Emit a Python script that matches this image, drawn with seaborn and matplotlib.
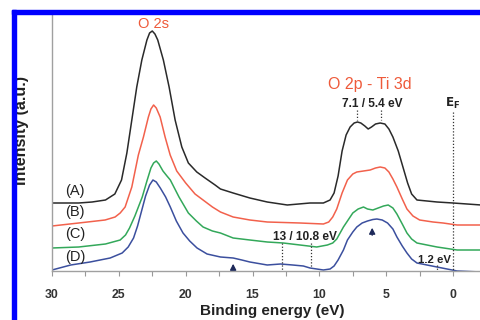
import matplotlib
matplotlib.use("Agg")
import matplotlib.pyplot as plt
from matplotlib.patches import Rectangle
import seaborn as sns
import pandas as pd

sns.set_style("white")
plt.rcParams['font.family'] = ['Liberation Sans', 'DejaVu Sans']

# Binding energy (eV) / intensity (a.u., offset)
be_A = [30, 28, 27, 26, 25.3, 24.8, 24.4, 24.03, 23.66, 23.28, 22.9, 22.7, 22.5, 22.3, 22.09,
        21.67, 21.24, 20.79, 20.29, 19.8, 19.17, 18.55, 17.8, 17.4, 16.45, 15.2, 13.9, 12.4, 10.7, 9.7,
        9.2, 8.9, 8.6, 8.3, 8.0, 7.7, 7.4, 7.15, 6.9, 6.6, 6.35, 6.1, 5.8, 5.45, 5.1,
        4.8, 4.5, 4.1, 3.75, 3.4, 3.1, 2.7, 1.2, 0, -2.1]
int_A = [68, 68, 69, 71, 77, 91, 118, 151, 184, 211, 231, 238, 240, 237, 231,
         211, 184, 151, 124, 108, 99, 93, 86, 82, 78, 73, 69, 66, 68, 68,
         71, 78, 95, 120, 136, 144, 148, 149, 148, 145, 142, 144, 147, 148, 147,
         142, 134, 120, 104, 88, 77, 71, 69, 68, 66]

be_B = [30, 28, 26.03, 25.28, 24.9, 24.53, 24.03, 23.54, 23.16, 22.79, 22.6, 22.4, 22.2, 21.91, 21.54,
        21.16, 20.67, 20.0, 19.3, 18.7, 18.0, 17.4, 16.45, 15.2, 13.9, 11.45, 9.7, 9.3, 9.0, 8.7,
        8.3, 7.9, 7.5, 7.2, 6.7, 6.2, 5.8, 5.45, 5.1, 4.8, 4.5, 4.2, 3.8, 3.45, 3.0,
        2.5, 1.5, 0.75, -0.3, -2.1]
int_B = [45, 48, 51, 54, 58, 64, 84, 116, 134, 154, 162, 166, 163, 154, 134,
         116, 100, 88, 77, 71, 64, 59, 54, 51, 49, 48, 47, 49, 54, 62,
         78, 91, 97, 99, 100, 101, 103, 104, 103, 99, 92, 84, 72, 62, 55,
         51, 49, 48, 46, 46]

be_C = [30, 28, 26.0, 24.9, 24.5, 24.2, 23.8, 23.25, 22.9, 22.6, 22.4, 22.2, 22.0, 21.7, 21.4,
        21.15, 20.5, 19.8, 19.2, 18.7, 18.0, 17.4, 16.45, 15.2, 13.9, 12.7, 11.45, 10.2, 9.4, 9.0,
        8.7, 8.2, 7.8, 7.5, 7.1, 6.7, 6.4, 6.0, 5.6, 5.2, 4.85, 4.5, 4.2, 3.8, 3.45,
        3.1, 2.7, 1.2, -0.3, -2.1]
int_C = [23, 24, 27, 31, 36, 43, 55, 74, 90, 103, 108, 110, 107, 100, 95,
         91, 74, 58, 50, 44, 40, 38, 33, 31, 29, 28, 26, 24, 26, 28,
         32, 44, 52, 58, 62, 64, 62, 61, 63, 65, 66, 63, 57, 47, 38,
         32, 28, 24, 21, 21]

be_D = [30, 28.6, 27.15, 25.65, 24.75, 24.3, 23.9, 23.6, 23.3, 23.0, 22.7, 22.45, 22.2, 21.9, 21.5,
        21.15, 20.7, 20.2, 19.7, 19.15, 18.4, 17.4, 16.45, 15.8, 15.2, 13.9, 12.9, 12.0, 11.2, 10.7,
        9.7, 9.2, 8.9, 8.6, 8.2, 7.9, 7.5, 7.2, 6.8, 6.4, 6.0, 5.7, 5.3, 4.9, 4.5,
        4.2, 3.8, 3.45, 3.1, 2.7, 1.2, -0.3, -2.1]
int_D = [1, 6, 9, 13, 18, 24, 33, 45, 60, 75, 86, 91, 89, 83, 74,
         64, 50, 38, 30, 23, 17, 14, 13, 11, 9, 6, 7, 6, 5, 3,
         1, 2, 5, 11, 21, 31, 39, 44, 48, 50, 51.5, 52, 51, 48, 42,
         34, 25, 18, 12, 8, 4, 0, -1]

samples = ["A", "B", "C", "D"]
colors = ["#2a2a2a", "#f2614c", "#33a85a", "#3b4f9e"]
x_ticks = [30, 25, 20, 15, 10, 5, 0]

frames = []
for name, xs, ys in zip(samples, [be_A, be_B, be_C, be_D], [int_A, int_B, int_C, int_D]):
    frames.append(pd.DataFrame({"be": xs, "intensity": ys, "sample": name}))
df = pd.concat(frames, ignore_index=True)

fig = plt.figure(figsize=(4.81, 3.2), dpi=100)
ax = fig.add_axes([52 / 481, 1 - 271 / 320, 1 - 52 / 481, (271 - 15) / 320])

sns.lineplot(data=df, x="be", y="intensity", hue="sample", palette=colors,
             sort=False, estimator=None, linewidth=1.1, legend=False, ax=ax)
for ln in ax.lines:
    ln.set_solid_joinstyle("round")

ax.set_xlim(30, -2.09)
ax.set_ylim(0, 256)
ax.set_xticks(x_ticks)
ax.set_xticks([27.5, 22.5, 17.5, 12.5, 7.5, 2.5], minor=True)
ax.set_xticklabels([str(t) for t in x_ticks], fontsize=8.8, fontweight="bold", color="#333333")
ax.set_yticks([])
ax.tick_params(axis="x", which="both", direction="out", length=3.6, width=0.8,
               color="#999999", pad=9, bottom=True)
for s in ["top", "right"]:
    ax.spines[s].set_visible(False)
for s in ["left", "bottom"]:
    ax.spines[s].set_color("#a0a0a0")
    ax.spines[s].set_linewidth(1.0)
ax.set_facecolor("white")
ax.set_xlabel("Binding energy (eV)", fontsize=11, fontweight="bold", color="#222222")
ax.xaxis.set_label_coords(0.513, -0.13)
ax.xaxis.label.set_va("top")
ax.set_ylabel("Intensity (a.u.)", fontsize=11.5, fontweight="bold", color="#222222")
ax.yaxis.set_label_coords(-0.054, 0.55)

orange = "#ee5a3a"
ax.text(22.44, 247, "O 2s", color=orange, fontsize=10.5, ha="center", va="center")
ax.text(6.2, 187, "O 2p - Ti 3d", color=orange, fontsize=11.5, ha="center", va="center")
ax.text(6.06, 167, "7.1 / 5.4 eV", color="#222222", fontsize=8.6, fontweight="bold",
        ha="center", va="center")
ax.text(0, 168, r"$\mathbf{E_F}$", color="#222222", fontsize=8.6, ha="center", va="center")
ax.text(11.07, 34, "13 / 10.8 eV", color="#222222", fontsize=8.6, fontweight="bold",
        ha="center", va="center")
ax.text(1.42, 11, "1.2 eV", color="#222222", fontsize=8.2, fontweight="bold",
        ha="center", va="center")
for lab, yv in zip(["(A)", "(B)", "(C)", "(D)"], [80, 59, 37, 14]):
    ax.text(28.27, yv, lab, color="#222222", fontsize=10.5, ha="center", va="center")

dot = dict(color="#333333", linestyle=(0, (1, 1.5)), linewidth=0.9)
ax.plot([7.2, 7.2], [161, 151], **dot)
ax.plot([5.4, 5.4], [161, 151], **dot)
ax.plot([0, 0], [159, 0], **dot)
ax.plot([12.8, 12.8], [28, 0], **dot)
ax.plot([10.6, 10.6], [28, 3], **dot)
ax.plot([1.2, 1.2], [6, 1], **dot)

arrow = dict(arrowstyle="-|>,head_length=0.35,head_width=0.18", color="#1e2a5a", lw=1.0)
ax.annotate("", xy=(16.45, 10), xytext=(16.45, 1), arrowprops=arrow)
ax.annotate("", xy=(6.05, 46), xytext=(6.05, 33), arrowprops=arrow)

blue = "#0000ff"
fig.patches.append(Rectangle((12 / 481, 0), 4 / 481, 310 / 320, transform=fig.transFigure,
                             color=blue, zorder=10))
fig.patches.append(Rectangle((12 / 481, 306 / 320), 1 - 12 / 481, 4 / 320,
                             transform=fig.transFigure, color=blue, zorder=10))

fig.savefig("out.png", dpi=100)
